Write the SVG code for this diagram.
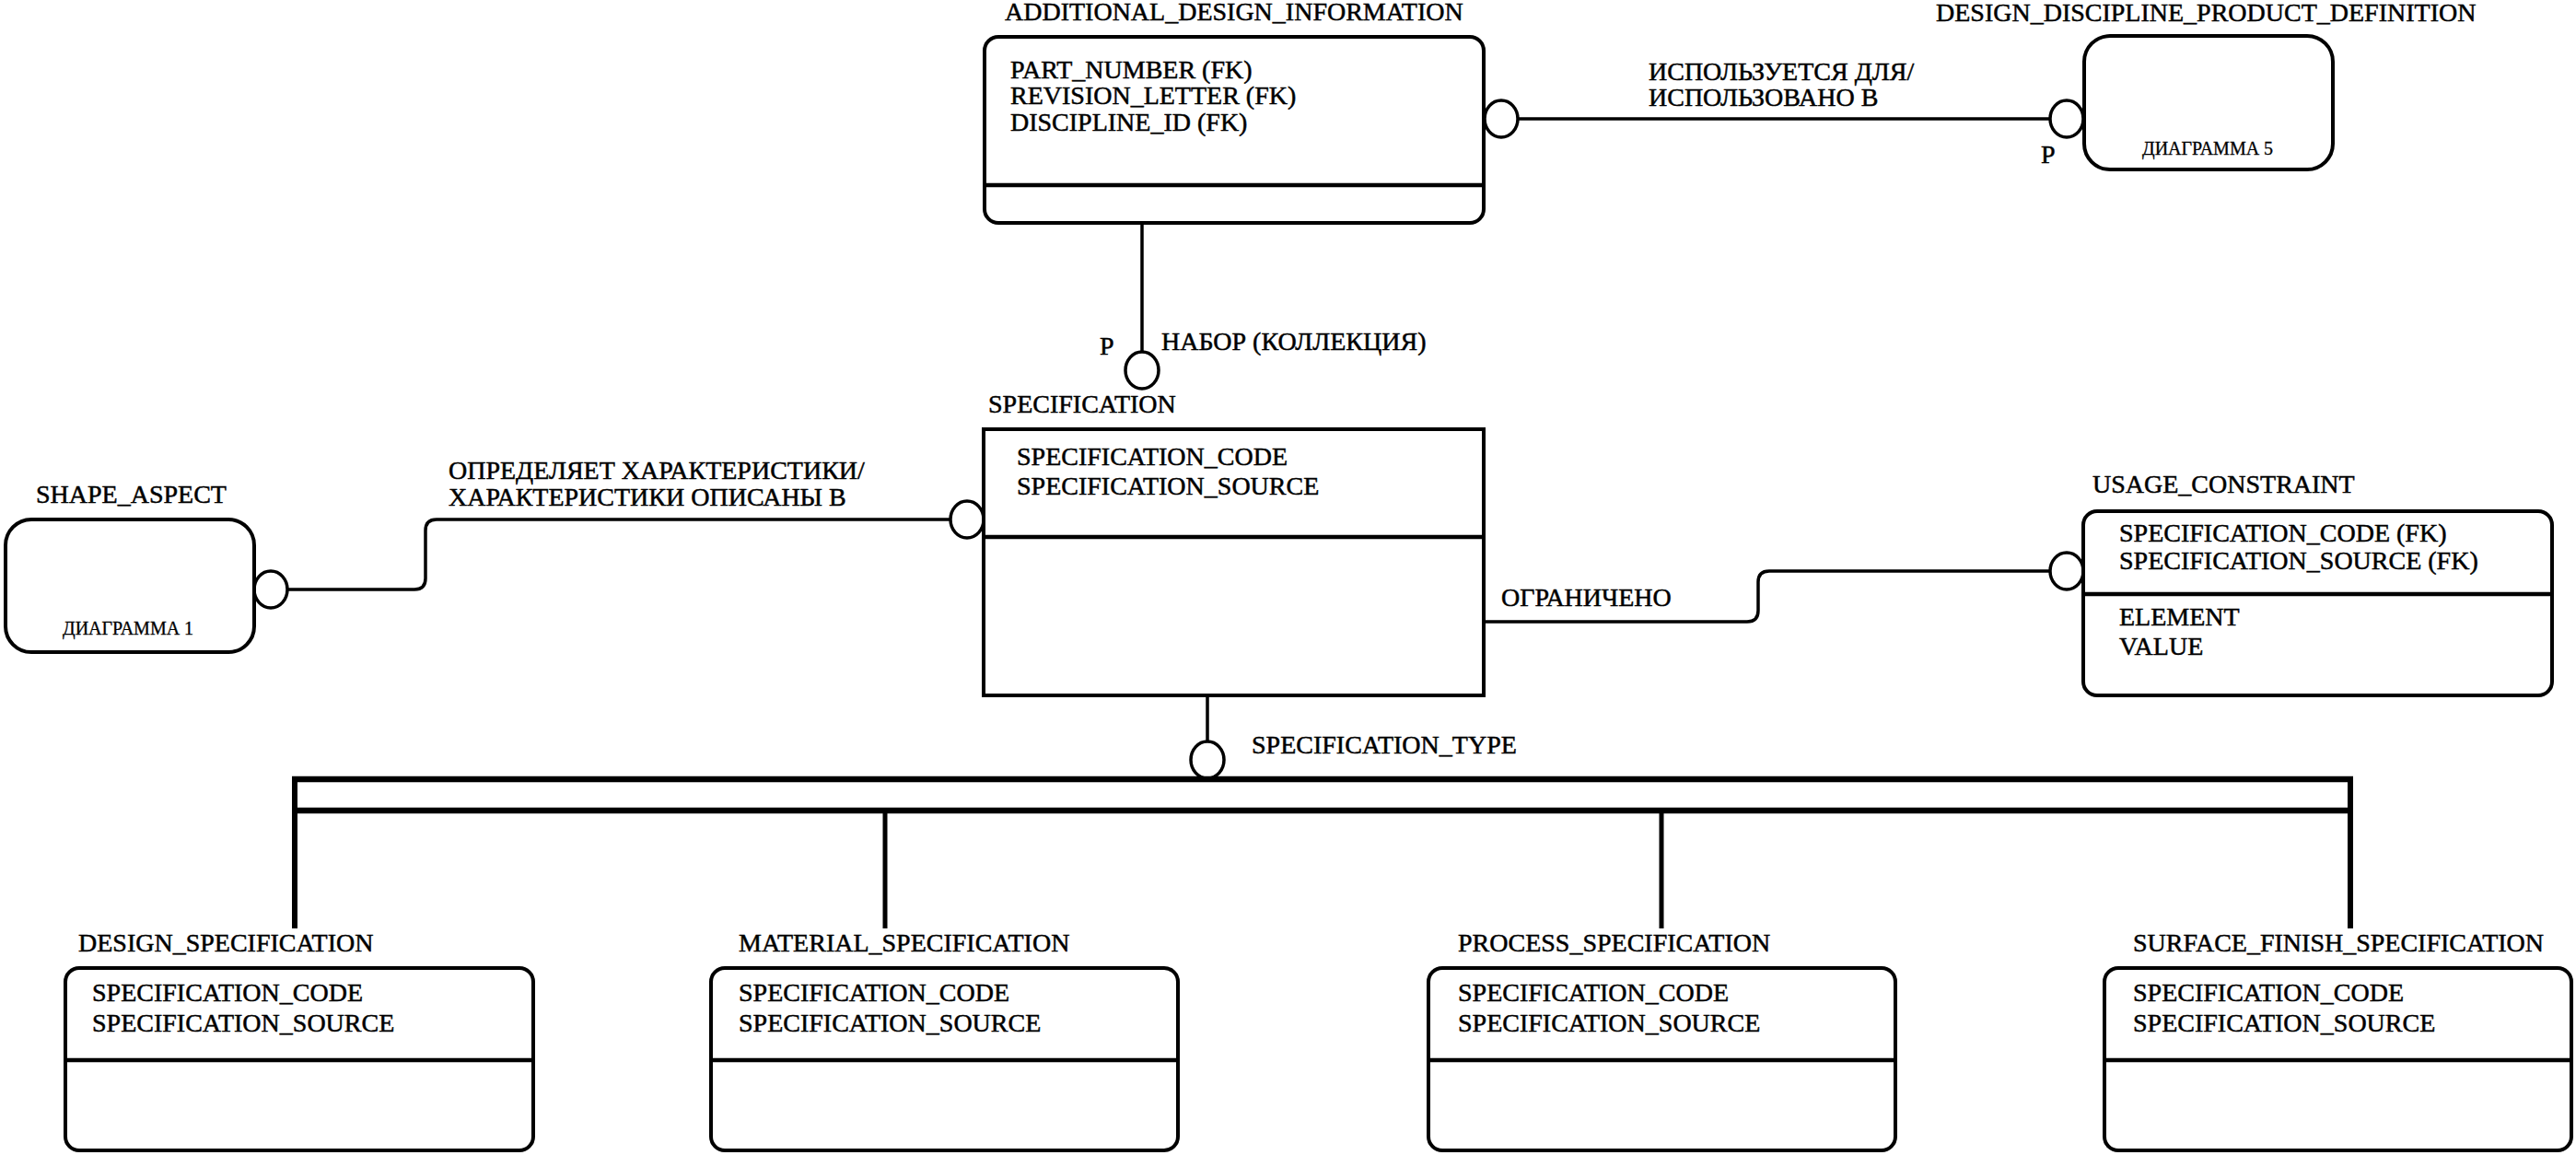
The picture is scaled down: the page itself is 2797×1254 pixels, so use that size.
<svg xmlns="http://www.w3.org/2000/svg" width="2797" height="1254" viewBox="0 0 2797 1254">
<style>
text{font-family:"Liberation Serif","Times New Roman",serif;font-size:28px;fill:#000;stroke:#000;stroke-width:0.5}
.small{font-size:20px;stroke-width:0.3}
.box{fill:#fff;stroke:#000;stroke-width:4}
.div{stroke:#000;stroke-width:4.5}
.conn{fill:none;stroke:#000;stroke-width:3.5}
.ring{fill:#fff;stroke:#000;stroke-width:3.5}
.bar{stroke:#000;stroke-width:6.5}
.side{stroke:#000;stroke-width:6}
</style>
<rect width="2797" height="1254" fill="#fff"/>
<g id="connectors">
<path class="conn" d="M1648,129 H2226"/>
<path class="conn" d="M1240,242 V382"/>
<path class="conn" d="M312,640 H450 Q462,640 462,628 V576 Q462,564 474,564 H1032"/>
<path class="conn" d="M1611,675 H1897 Q1909,675 1909,663 V632 Q1909,620 1921,620 H2226"/>
<path class="conn" d="M1311,755 V805"/>
<ellipse class="ring" cx="1630" cy="129" rx="18" ry="20"/>
<ellipse class="ring" cx="2244" cy="129" rx="18" ry="20"/>
<ellipse class="ring" cx="1240" cy="402" rx="18" ry="20"/>
<ellipse class="ring" cx="294" cy="640" rx="18" ry="20"/>
<ellipse class="ring" cx="1050" cy="564" rx="18" ry="20"/>
<ellipse class="ring" cx="2244" cy="620" rx="18" ry="20"/>
<ellipse class="ring" cx="1311" cy="825" rx="18" ry="20"/>
<text x="1790" y="87">ИСПОЛЬЗУЕТСЯ ДЛЯ/</text>
<text x="1790" y="115">ИСПОЛЬЗОВАНО В</text>
<text x="2216" y="177">P</text>
<text x="1194" y="385">P</text>
<text x="1261" y="380">НАБОР (КОЛЛЕКЦИЯ)</text>
<text x="487" y="520">ОПРЕДЕЛЯЕТ ХАРАКТЕРИСТИКИ/</text>
<text x="487" y="549">ХАРАКТЕРИСТИКИ ОПИСАНЫ В</text>
<text x="1630" y="658">ОГРАНИЧЕНО</text>
<text x="1359" y="818">SPECIFICATION_TYPE</text>
<g id="category">
<line class="bar" x1="317" y1="846" x2="2555" y2="846"/>
<line class="bar" x1="317" y1="880" x2="2555" y2="880"/>
<line class="side" x1="320" y1="843" x2="320" y2="1008"/>
<line class="side" x1="2552" y1="843" x2="2552" y2="1008"/>
<line class="conn" x1="961" y1="880" x2="961" y2="1008" style="stroke-width:5"/>
<line class="conn" x1="1804" y1="880" x2="1804" y2="1008" style="stroke-width:5"/>
</g>
</g>
<g id="additional_design_information">
<text x="1091" y="22">ADDITIONAL_DESIGN_INFORMATION</text>
<rect class="box" x="1069" y="40" width="542" height="202" rx="15"/>
<line class="div" x1="1069" y1="201" x2="1611" y2="201"/>
<text x="1097" y="85">PART_NUMBER (FK)</text>
<text x="1097" y="113">REVISION_LETTER (FK)</text>
<text x="1097" y="142">DISCIPLINE_ID (FK)</text>
</g>
<g id="design_discipline_product_definition">
<text x="2102" y="23">DESIGN_DISCIPLINE_PRODUCT_DEFINITION</text>
<rect class="box" x="2263" y="39" width="270" height="145" rx="28"/>
<text class="small" x="2326" y="168">ДИАГРАММА 5</text>
</g>
<g id="specification">
<text x="1073" y="448">SPECIFICATION</text>
<rect class="box" x="1068" y="466" width="543" height="289"/>
<line class="div" x1="1068" y1="583" x2="1611" y2="583"/>
<text x="1104" y="505">SPECIFICATION_CODE</text>
<text x="1104" y="537">SPECIFICATION_SOURCE</text>
</g>
<g id="shape_aspect">
<text x="39" y="546">SHAPE_ASPECT</text>
<rect class="box" x="6" y="564" width="270" height="144" rx="28"/>
<text class="small" x="68" y="689">ДИАГРАММА 1</text>
</g>
<g id="usage_constraint">
<text x="2272" y="535">USAGE_CONSTRAINT</text>
<rect class="box" x="2262" y="555" width="509" height="200" rx="15"/>
<line class="div" x1="2262" y1="645" x2="2771" y2="645"/>
<text x="2301" y="588">SPECIFICATION_CODE (FK)</text>
<text x="2301" y="618">SPECIFICATION_SOURCE (FK)</text>
<text x="2301" y="679">ELEMENT</text>
<text x="2301" y="711">VALUE</text>
</g>
<g id="design_specification">
<text x="85" y="1033">DESIGN_SPECIFICATION</text>
<rect class="box" x="71" y="1051" width="508" height="198" rx="15"/>
<line class="div" x1="71" y1="1151" x2="579" y2="1151"/>
<text x="100" y="1087">SPECIFICATION_CODE</text>
<text x="100" y="1120">SPECIFICATION_SOURCE</text>
</g>
<g id="material_specification">
<text x="802" y="1033">MATERIAL_SPECIFICATION</text>
<rect class="box" x="772" y="1051" width="507" height="198" rx="15"/>
<line class="div" x1="772" y1="1151" x2="1279" y2="1151"/>
<text x="802" y="1087">SPECIFICATION_CODE</text>
<text x="802" y="1120">SPECIFICATION_SOURCE</text>
</g>
<g id="process_specification">
<text x="1583" y="1033">PROCESS_SPECIFICATION</text>
<rect class="box" x="1551" y="1051" width="507" height="198" rx="15"/>
<line class="div" x1="1551" y1="1151" x2="2058" y2="1151"/>
<text x="1583" y="1087">SPECIFICATION_CODE</text>
<text x="1583" y="1120">SPECIFICATION_SOURCE</text>
</g>
<g id="surface_finish_specification">
<text x="2316" y="1033">SURFACE_FINISH_SPECIFICATION</text>
<rect class="box" x="2285" y="1051" width="507" height="198" rx="15"/>
<line class="div" x1="2285" y1="1151" x2="2792" y2="1151"/>
<text x="2316" y="1087">SPECIFICATION_CODE</text>
<text x="2316" y="1120">SPECIFICATION_SOURCE</text>
</g>
</svg>
